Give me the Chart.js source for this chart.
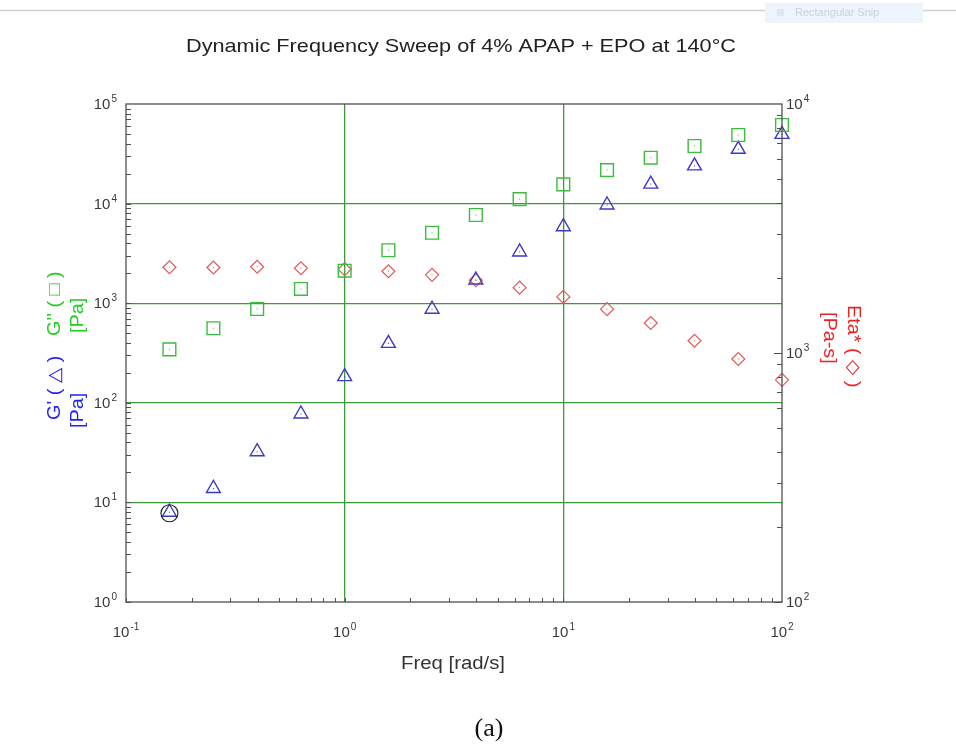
<!DOCTYPE html>
<html><head><meta charset="utf-8">
<script src="https://cdn.jsdelivr.net/npm/chart.js@4.4.1/dist/chart.umd.min.js"></script>
<style>html,body{margin:0;padding:0;background:#fff;}#wrap{width:956px;height:746px;}</style>
</head><body><div id="wrap"><canvas id="c" width="956" height="746"></canvas></div>
<script>
// ---- data ----
const freq = [0.158, 0.251, 0.398, 0.631, 1.0, 1.585, 2.51, 3.98, 6.31, 10, 15.85, 25.1, 39.8, 63.1, 100];
const gDoublePrime = [344, 560, 875, 1390, 2120, 3400, 5100, 7690, 11100, 15600, 21700, 28900, 37900, 48800, 61500];
const gPrime = [7.96, 13.8, 32.3, 77.2, 183, 395, 869, 1710, 3270, 5860, 9680, 15700, 23900, 35100, 49600];
const etaStar = [2210, 2205, 2220, 2190, 2170, 2130, 2060, 1960, 1830, 1680, 1500, 1320, 1120, 946, 780];
const xDecades = [-1, 0, 1, 2];
const yLeftDecades = [0, 1, 2, 3, 4, 5];
const yRightDecades = [2, 3, 4];
const titleText = 'Dynamic Frequency Sweep of 4% APAP + EPO at 140°C';
const xTitle = 'Freq [rad/s]';
const captionText = '(a)';

const GREEN = '#3dbb3d', BLUE = '#3b3bc0', RED = '#e25a5a', GRID = '#3c9a3c', AX = '#505050', LBL = '#3a3a3a';
const pts = (ys) => freq.map((f, i) => ({x: f, y: ys[i]}));

function drawStr(ctx, s, x, y, font, color, o = {}) {
  ctx.save();
  ctx.font = font; ctx.fillStyle = color;
  ctx.textBaseline = o.baseline || 'middle';
  ctx.translate(x, y);
  if (o.rot) ctx.rotate(o.rot);
  let sx = o.sx || 1;
  if (o.width) sx = o.width / ctx.measureText(s).width;
  ctx.scale(sx, 1);
  ctx.textAlign = o.align || 'center';
  ctx.fillText(s, 0, 0);
  ctx.restore();
}
// power-of-ten label: "10" plus superscript exponent
function pow10(ctx, e, x, y, align) {
  const bf = '15px "Liberation Sans", Arial, sans-serif', sf = '10px "Liberation Sans", Arial, sans-serif';
  const ex = String(e);
  ctx.save();
  ctx.font = bf; const wb = ctx.measureText('10').width;
  ctx.font = sf; const ws = ctx.measureText(ex).width;
  const w = wb + ws + 1;
  let x0 = align === 'right' ? x - w : align === 'left' ? x : x - w / 2;
  ctx.fillStyle = LBL; ctx.textBaseline = 'alphabetic'; ctx.textAlign = 'left';
  ctx.font = bf; ctx.fillText('10', x0, y + 5);
  ctx.font = sf; ctx.fillText(ex, x0 + wb + 1, y - 2);
  ctx.restore();
}

const decor = {
  id: 'decor',
  beforeDraw(chart) {
    const ctx = chart.ctx;
    ctx.save();
    ctx.fillStyle = '#fff'; ctx.fillRect(0, 0, chart.width, chart.height);
    ctx.strokeStyle = '#d0d0d0'; ctx.lineWidth = 1.5;
    ctx.beginPath(); ctx.moveTo(0, 10.5); ctx.lineTo(956, 10.5); ctx.stroke();
    ctx.fillStyle = '#eef4fc'; ctx.fillRect(765, 3, 158, 20);
    ctx.fillStyle = '#dde6f2'; ctx.fillRect(777, 9, 7, 7);
    drawStr(ctx, 'Rectangular Snip', 795, 13, '11px "Liberation Sans", Arial', '#c9d1dc', {align: 'left'});
    ctx.restore();
  },
  afterDatasetsDraw(chart) {
    const ctx = chart.ctx, a = chart.chartArea;
    const xs = chart.scales.x, yl = chart.scales.y, yr = chart.scales.y2;
    ctx.save();
    // centre dots in markers
    chart.data.datasets.forEach((ds, di) => {
      if (!ds.dotColor) return;
      chart.getDatasetMeta(di).data.forEach(p => {
        ctx.fillStyle = ds.dotColor; ctx.fillRect(p.x - 0.5, p.y - 0.5, 1, 1);
      });
    });
    // highlight circle around first G' point
    const p0 = chart.getDatasetMeta(1).data[0];
    ctx.strokeStyle = '#222'; ctx.lineWidth = 1.1;
    ctx.beginPath(); ctx.arc(p0.x, p0.y + 1, 8.5, 0, Math.PI * 2); ctx.stroke();
    // frame
    ctx.strokeStyle = AX; ctx.lineWidth = 1.3;
    ctx.strokeRect(a.left, a.top, a.right - a.left, a.bottom - a.top);
    // inside ticks
    ctx.lineWidth = 1; ctx.strokeStyle = AX;
    ctx.beginPath();
    for (let d = 0; d < 5; d++) for (let m = 1; m <= 9; m++) {
      const y = Math.round(yl.getPixelForValue(m * Math.pow(10, d))) + 0.5;
      ctx.moveTo(a.left, y); ctx.lineTo(a.left + 5, y);
    }
    for (let d = -1; d < 2; d++) for (let m = 1; m <= 9; m++) {
      const x = Math.round(xs.getPixelForValue(m * Math.pow(10, d))) + 0.5;
      ctx.moveTo(x, a.bottom); ctx.lineTo(x, a.bottom - 4);
    }
    for (let d = 2; d < 4; d++) for (let m = 1; m <= 9; m++) {
      const y = Math.round(yr.getPixelForValue(m * Math.pow(10, d))) + 0.5;
      const L = m === 1 ? 8 : 5;
      ctx.moveTo(a.right, y); ctx.lineTo(a.right - L, y);
    }
    ctx.stroke();
    // tick labels from the library scales
    xs.ticks.forEach(t => pow10(ctx, Math.round(Math.log10(t.value)), xs.getPixelForValue(t.value), 632, 'center'));
    yl.ticks.forEach(t => pow10(ctx, Math.round(Math.log10(t.value)), a.left - 9, yl.getPixelForValue(t.value), 'right'));
    yr.ticks.forEach(t => pow10(ctx, Math.round(Math.log10(t.value)), a.right + 4, yr.getPixelForValue(t.value), 'left'));
    // titles
    const F = (s) => s + 'px "Liberation Sans", Arial, sans-serif';
    drawStr(ctx, titleText, 461, 47, F(19), '#222', {width: 550});
    drawStr(ctx, xTitle, 453, 664, F(18), '#333', {sx: 1.13});
    drawStr(ctx, captionText, 489, 729, '26px "Liberation Serif", "Times New Roman", serif', '#111');
    drawStr(ctx, 'G\'\' ( \u25A1 )', 55, 336, F(18), '#22cc22', {rot: -Math.PI / 2, align: 'left', sx: 1.1});
    drawStr(ctx, '[Pa]', 78, 333, F(18), '#22cc22', {rot: -Math.PI / 2, align: 'left', sx: 1.1});
    drawStr(ctx, 'G\' ( \u25B3 )', 55, 420, F(18), '#2222ee', {rot: -Math.PI / 2, align: 'left', sx: 1.1});
    drawStr(ctx, '[Pa]', 78, 428, F(18), '#2222ee', {rot: -Math.PI / 2, align: 'left', sx: 1.1});
    drawStr(ctx, 'Eta* ( \u25C7 )', 853, 305, F(18), '#ee2222', {rot: Math.PI / 2, align: 'left', sx: 1.1});
    drawStr(ctx, '[Pa-s]', 829, 312, F(18), '#ee2222', {rot: Math.PI / 2, align: 'left', sx: 1.1});
    ctx.restore();
  }
};

const decadeTicks = (list) => (scale) => { scale.ticks = list.map(e => ({value: Math.pow(10, e)})); };
const gridCol = (lo, hi) => (c) => {
  const v = c.tick ? c.tick.value : null;
  return (v !== null && v > lo * 1.01 && v < hi * 0.99) ? GRID : 'rgba(0,0,0,0)';
};

new Chart(document.getElementById('c'), {
  type: 'scatter',
  data: {
    datasets: [
      {label: "G''", data: pts(gDoublePrime), yAxisID: 'y', pointStyle: 'rect', pointRadius: 9, clip: false,
       borderColor: GREEN, backgroundColor: 'rgba(0,0,0,0)', borderWidth: 1.4, dotColor: GREEN},
      {label: "G'", data: pts(gPrime), yAxisID: 'y', pointStyle: 'triangle', pointRadius: 8, clip: false,
       borderColor: BLUE, backgroundColor: 'rgba(0,0,0,0)', borderWidth: 1.4, dotColor: BLUE},
      {label: 'Eta*', data: pts(etaStar), yAxisID: 'y2', pointStyle: 'rectRot', pointRadius: 6.5, clip: false,
       borderColor: RED, backgroundColor: 'rgba(0,0,0,0)', borderWidth: 1.2, dotColor: RED}
    ]
  },
  options: {
    responsive: false, animation: false, devicePixelRatio: 1,
    layout: {padding: {left: 126, top: 104, right: 174, bottom: 144}},
    plugins: {legend: {display: false}, tooltip: {enabled: false}, title: {display: false}},
    scales: {
      x: {type: 'logarithmic', min: 0.1, max: 100, afterBuildTicks: decadeTicks(xDecades),
          ticks: {display: false}, border: {display: false},
          grid: {drawTicks: false, color: gridCol(0.1, 100), lineWidth: 1.3}},
      y: {type: 'logarithmic', position: 'left', min: 1, max: 1e5, afterBuildTicks: decadeTicks(yLeftDecades),
          ticks: {display: false}, border: {display: false},
          grid: {drawTicks: false, color: gridCol(1, 1e5), lineWidth: 1.3}},
      y2: {type: 'logarithmic', position: 'right', min: 100, max: 1e4, afterBuildTicks: decadeTicks(yRightDecades),
          ticks: {display: false}, border: {display: false}, grid: {display: false, drawTicks: false}}
    }
  },
  plugins: [decor]
});
</script></body></html>
